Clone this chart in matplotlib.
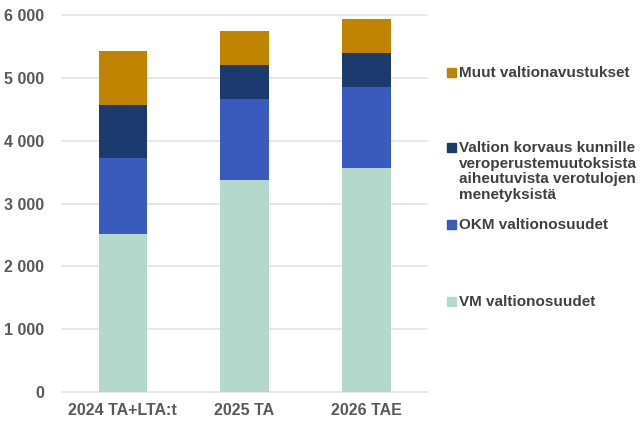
import numpy as np
import matplotlib.pyplot as plt
from matplotlib.patches import Rectangle

plt.rcParams['font.family'] = ['Liberation Sans', 'DejaVu Sans']

categories = ['2024 TA+LTA:t', '2025 TA', '2026 TAE']
vm = [2507, 3367, 3558]
okm = [1220, 1295, 1295]
korvaus = [845, 537, 537]
muut = [850, 551, 542]

series = [
    ('VM valtionosuudet', vm, '#B5D8CC'),
    ('OKM valtionosuudet', okm, '#3A5BBE'),
    ('Valtion korvaus kunnille\nveroperustemuutoksista\naiheutuvista verotulojen\nmenetyksistä', korvaus, '#1C3A6E'),
    ('Muut valtionavustukset', muut, '#C08400'),
]
yticks = [0, 1000, 2000, 3000, 4000, 5000, 6000]
ytick_labels = ['0', '1 000', '2 000', '3 000', '4 000', '5 000', '6 000']

W, H = 640, 421
fig = plt.figure(figsize=(W / 100, H / 100), dpi=100)
ax = fig.add_axes([62 / W, (H - 392) / H, (427 - 62) / W, (392 - 15) / H])

text_col = '#595959'
x = np.arange(len(categories))
bottom = np.zeros(len(categories))
for name, vals, col in series:
    ax.bar(x, vals, 0.4, bottom=bottom, color=col, zorder=3)
    bottom += np.array(vals)

ax.set_xlim(-0.5, 2.5)
ax.set_ylim(0, 6000)
ax.set_yticks(yticks)
ax.set_yticklabels(ytick_labels)
ax.set_xticks(x)
ax.set_xticklabels(categories)
ax.grid(axis='y', color='#E3E3E3', linewidth=1.2, zorder=0)
for g in ax.get_ygridlines():
    g.set_clip_on(False)
for s in ax.spines.values():
    s.set_visible(False)
ax.tick_params(length=0, labelsize=11.5)
ax.tick_params(axis='y', pad=13)
ax.tick_params(axis='x', pad=8)
for lbl in ax.get_xticklabels() + ax.get_yticklabels():
    lbl.set_fontweight('bold')
    lbl.set_color(text_col)

# legend entries placed by hand (uneven spacing in the original)
legend_y = [302, 225, 148, 73]
for (name, vals, col), yp in zip(series, legend_y):
    fig.add_artist(Rectangle((447 / W, (H - yp - 4) / H), 9 / W, 9 / H,
                             transform=fig.transFigure, color=col))
    fig.text(459 / W, (H - yp + 7) / H, name, ha='left', va='top',
             fontsize=11, fontweight='bold', color='#404040', linespacing=1.15)

fig.savefig('out.png', dpi=100)
